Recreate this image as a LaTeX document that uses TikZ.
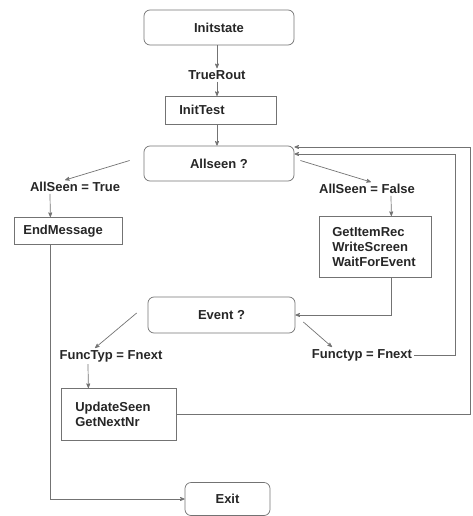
\documentclass[tikz,border=0pt]{standalone}
\usepackage{fontspec}
\setmainfont{Liberation Sans}
\usepackage{tikz}
\usetikzlibrary{arrows,calc,positioning}

\begin{document}
\begin{tikzpicture}[x=1pt,y=-1pt,
    every node/.append style={font=\fontsize{13}{15}\selectfont\bfseries,text=black!85},
    every edge/.append style={>=stealth',->,thin},
    flow/.style={draw=black!55,line width=0.7pt,>=stealth',->},
    state/.style={draw=black!55,line width=0.7pt,rounded corners=6pt,minimum height=35pt},
    action/.style={draw=black!55,line width=0.7pt,align=left,anchor=north west,inner ysep=3pt},
    cond/.style={inner sep=2pt}]
    \useasboundingbox (0,0) rectangle (472,516);

    \node at (219,27.5) [state,minimum width=150pt] (init) {Initstate};
    \node at (217,75) [cond] (truerout) {TrueRout};
    \node at (165,96) [action,minimum height=28pt,text width=83pt,inner xsep=14pt]
      (inittest) {InitTest};
    \node at (219,163.5) [state,minimum width=150pt] (allseen) {Allseen ?};

    \node at (75,187) [cond] (seentrue) {AllSeen = True};
    \node at (367,189) [cond] (seenfalse) {AllSeen = False};

    \node at (14,217) [action,minimum height=27pt,text width=90pt,inner xsep=9pt]
      (endmsg) {EndMessage};
    \node at (319,216) [action,minimum height=61pt,text width=86pt,inner xsep=13pt]
      (getitem) {GetItemRec\\WriteScreen\\WaitForEvent};

    \node at (221.5,315) [state,minimum width=147pt,minimum height=36pt] (event) {Event ?};

    \node at (111,356) [cond] (functrue) {FuncTyp = Fnext};
    \node at (362,355) [cond] (funcnext) {Functyp = Fnext};

    \node at (61,388) [action,minimum height=52pt,text width=87pt,inner xsep=14pt]
      (update) {UpdateSeen\\GetNextNr};

    \node at (227.5,499) [state,minimum width=85pt,minimum height=33pt] (exit) {Exit};

    \coordinate (loopa) at (470,147);
    \coordinate (loopb) at (455,154);

    % top part
    \draw[flow] (init.south -| truerout) -- (truerout.north);
    \draw[flow] (truerout.south) -- (truerout.south |- inittest.north);
    \draw[flow] (truerout |- inittest.south) -- (truerout |- allseen.north);

    % Allseen branches
    \draw[flow] ([xshift=-14pt,yshift=3pt]allseen.west) -- ([xshift=-10pt]seentrue.north);
    \draw[flow] ([xshift=6pt,yshift=3pt]allseen.east) -- ([xshift=4pt]seenfalse.north);
    \draw[flow] ([xshift=-25pt]seentrue.south) -- ([xshift=-18pt]endmsg.north);
    \draw[flow] ([xshift=24pt]seenfalse.south) -- ([xshift=16pt]getitem.north);
    \draw[flow] ([xshift=16pt]getitem.south) |- (event.east);

    % Event branches
    \draw[flow] ([xshift=-11pt,yshift=2pt]event.west) -- ([xshift=-16pt]functrue.north);
    \draw[flow] ([xshift=8pt,yshift=-7pt]event.east) -- ([xshift=-30pt]funcnext.north);
    \draw[flow] ([xshift=-23pt]functrue.south) -- ([xshift=-30.5pt]update.north);

    % loops back
    \draw[flow] (funcnext.east) -| (loopb) -- (loopb -| allseen.east);
    \draw[flow] (update.east) -| (loopa) -- (loopa -| allseen.east);

    % exit
    \draw[flow] ([xshift=-18pt]endmsg.south) |- (exit.west);
\end{tikzpicture}
\end{document}
